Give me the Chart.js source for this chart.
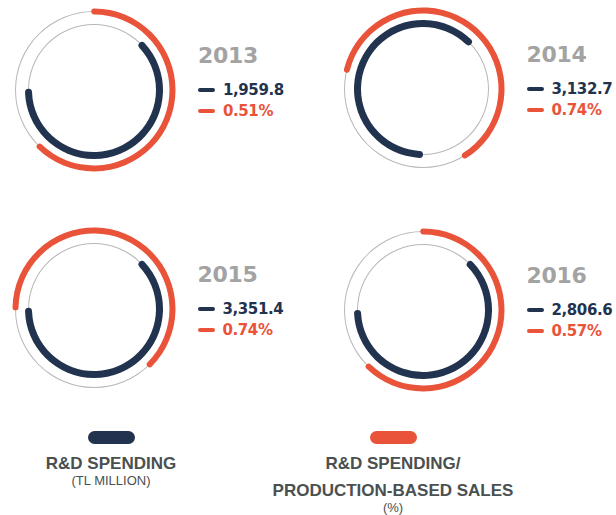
<!DOCTYPE html>
<html>
<head>
<meta charset="utf-8">
<script src="https://cdn.jsdelivr.net/npm/chart.js@4/dist/chart.umd.min.js"></script>
<style>
  html, body { margin: 0; padding: 0; background: #fff; }
  #wrap { position: relative; width: 616px; height: 515px; overflow: hidden; font-family: "DejaVu Sans", sans-serif; }
  canvas { position: absolute; }
  .year { position: absolute; font-weight: bold; font-size: 22px; color: #a3a3a3; line-height: 1; letter-spacing: -0.3px; }
  .val { position: absolute; font-weight: bold; font-size: 15px; line-height: 1; letter-spacing: -0.4px; white-space: nowrap; }
  .val i { display: inline-block; width: 17px; height: 4px; border-radius: 2px; margin-right: 8px; vertical-align: 3px; }
  .lg { position: absolute; text-align: center; color: #4a5050; font-family: "Liberation Sans", Arial, sans-serif; }
  .lg .bar { width: 47px; height: 13px; border-radius: 6.5px; margin: 0 auto 10px; }
  .lg .t { font-weight: bold; font-size: 17px; line-height: 20px; }
  .lg .t + .t { margin-top: 7px; }
  .lg .s { font-size: 13px; line-height: 14px; }
</style>
</head>
<body>
<div id="wrap"></div>
<script>
// Annual figures
const years = ['2013', '2014', '2015', '2016'];
const rdSpending = [1959.8, 3132.7, 3351.4, 2806.6];     // TL million
const rdShare = [0.51, 0.74, 0.74, 0.57];                // % of production-based sales
const spendingLabels = ['1,959.8', '3,132.7', '3,351.4', '2,806.6'];
const shareLabels = ['0.51%', '0.74%', '0.74%', '0.57%'];

const NAVY = '#22334f';
const ORANGE = '#e9533a';
const TRACK = '#b8b8b8';

// Panel placement (ring centre) and arc start angles in degrees
const panels = [
  { cx: 94,    cy: 89.5, shareStart: -2,  spendStart: 44 },
  { cx: 422.5, cy: 89,   shareStart: -78, spendStart: 180 },
  { cx: 93.5,  cy: 309,  shareStart: -91, spendStart: 44 },
  { cx: 422.5, cy: 309.5, shareStart: -2, spendStart: 43 }
];
const SHARE_SWEEP = 228;
const SPEND_SWEEP = 227;
const SIZE = 170;  // canvas edge, outer radius = 85

const wrap = document.getElementById('wrap');

function makeCanvas(p) {
  const c = document.createElement('canvas');
  c.width = SIZE; c.height = SIZE;
  c.style.width = SIZE + 'px'; c.style.height = SIZE + 'px';
  c.style.left = (p.cx - SIZE / 2) + 'px';
  c.style.top = (p.cy - SIZE / 2) + 'px';
  wrap.appendChild(c);
  return c;
}

const baseOptions = (cutout) => ({
  responsive: false,
  animation: false,
  events: [],
  cutout: cutout,
  layout: { padding: 0 },
  plugins: { legend: { display: false }, tooltip: { enabled: false } }
});

function spacer(weight) {
  return { data: [1], weight: weight, backgroundColor: 'rgba(0,0,0,0)', borderWidth: 0 };
}

years.forEach((year, i) => {
  const p = panels[i];

  // thin grey tracks
  new Chart(makeCanvas(p), {
    type: 'doughnut',
    data: {
      labels: ['track'],
      datasets: [
        spacer(6),
        { data: [1], weight: 1, backgroundColor: TRACK, borderWidth: 0 },
        spacer(12),
        { data: [1], weight: 1, backgroundColor: TRACK, borderWidth: 0 }
      ]
    },
    options: baseOptions((65 / 85 * 100) + '%')
  });

  // value arcs
  new Chart(makeCanvas(p), {
    type: 'doughnut',
    data: {
      labels: [year],
      datasets: [
        spacer(3.5),
        {
          label: 'R&D spending / production-based sales (%)',
          data: [rdShare[i]],
          weight: 6,
          rotation: p.shareStart,
          circumference: SHARE_SWEEP,
          backgroundColor: ORANGE,
          borderWidth: 0,
          borderRadius: 10
        },
        spacer(6.5),
        {
          label: 'R&D spending (TL million)',
          data: [rdSpending[i]],
          weight: 7,
          rotation: p.spendStart,
          circumference: SPEND_SWEEP,
          backgroundColor: NAVY,
          borderWidth: 0,
          borderRadius: 10
        }
      ]
    },
    options: baseOptions((62 / 85 * 100) + '%')
  });

  // year and values beside the ring
  const y = document.createElement('div');
  y.className = 'year';
  y.textContent = year;
  y.style.left = (p.cx + 104) + 'px';
  y.style.top = (p.cy - 45) + 'px';
  wrap.appendChild(y);

  const v1 = document.createElement('div');
  v1.className = 'val';
  v1.style.color = NAVY;
  v1.innerHTML = '<i style="background:' + NAVY + '"></i>' + spendingLabels[i];
  v1.style.left = (p.cx + 104) + 'px';
  v1.style.top = (p.cy - 7) + 'px';
  wrap.appendChild(v1);

  const v2 = document.createElement('div');
  v2.className = 'val';
  v2.style.color = ORANGE;
  v2.innerHTML = '<i style="background:' + ORANGE + '"></i>' + shareLabels[i];
  v2.style.left = (p.cx + 104) + 'px';
  v2.style.top = (p.cy + 14) + 'px';
  wrap.appendChild(v2);
});

// bottom key
const key = [
  { cx: 111, color: NAVY, lines: ['R&D SPENDING'], sub: '(TL MILLION)' },
  { cx: 393, color: ORANGE, lines: ['R&D SPENDING/', 'PRODUCTION-BASED SALES'], sub: '(%)' }
];
key.forEach(k => {
  const d = document.createElement('div');
  d.className = 'lg';
  d.style.left = (k.cx - 150) + 'px';
  d.style.width = '300px';
  d.style.top = '431px';
  d.innerHTML = '<div class="bar" style="background:' + k.color + '"></div>' +
    k.lines.map(l => '<div class="t">' + l + '</div>').join('') +
    '<div class="s">' + k.sub + '</div>';
  wrap.appendChild(d);
});
</script>
</body>
</html>
